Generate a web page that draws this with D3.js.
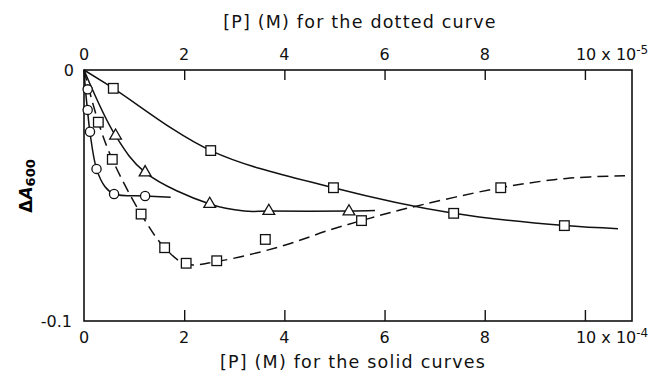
<!DOCTYPE html>
<html>
<head>
<meta charset="utf-8">
<script src="https://cdn.jsdelivr.net/npm/d3@7"></script>
<style>
  body { margin: 0; background: #fff; }
  svg { font-family: "DejaVu Sans", sans-serif; }
  .frame { stroke: #111; stroke-width: 1.6; fill: none; }
  .tick-lbl { font-size: 16px; fill: #111; }
  .title { font-size: 17.5px; letter-spacing: 1.2px; fill: #111; }
</style>
</head>
<body>
<div id="viz"></div>
<script>
// x in units of 1e-4 M (solid curves) or 1e-5 M (dotted curve), y = -dA600 in 1e-3
var xTicks = [2, 4, 6, 8, 10];

// measured points
var circlePts   = [[0.073, 7.7], [0.073, 15.9], [0.12, 24.6], [0.25, 39.4], [0.6, 49.4], [1.22, 50.2]];
var trianglePts = [[0.63, 26.2], [1.22, 40.8], [2.51, 53.4], [3.69, 56.2], [5.29, 56.4]];
var squarePts   = [[0.585, 7.3], [2.53, 32.1], [4.98, 46.9], [7.38, 57.1], [9.59, 62.0]];
var dottedPts   = [[0.286, 20.8], [0.565, 35.6], [1.14, 57.4], [1.61, 70.8], [2.04, 77.0], [2.65, 76.0], [3.62, 67.5], [5.54, 60.0], [8.32, 46.9]];

// drawn curves
var circleCurve   = [[0, 0], [0.03, 8], [0.07, 16], [0.12, 25], [0.25, 39.4], [0.42, 46.5], [0.6, 49.4], [1.22, 50.2], [1.73, 50.7]];
var triangleCurve = [[0, 0], [0.63, 26.2], [1.22, 40.8], [2.51, 53.4], [3.2, 56.2], [3.69, 56.2], [5.29, 56.2], [5.81, 56.0]];
var squareCurve   = [[0, 0], [0.585, 7.3], [2.53, 32.1], [4.98, 46.9], [7.38, 57.1], [9.59, 62.0], [10.66, 63.2]];
var dottedCurve   = [[0, 0], [0.286, 20.8], [0.565, 35.6], [1.14, 57.4], [1.61, 70.8], [2.04, 77.3], [2.65, 76.3], [3.91, 70.4], [4.91, 63.7], [5.54, 60.0], [6.31, 55.8], [8.32, 46.9], [9.63, 43.2], [10.8, 42.1]];

var width = 655, height = 374;
var margin = {top: 70, left: 84, right: 23, bottom: 53};

var x = d3.scaleLinear().domain([0, 10.94]).range([margin.left, width - margin.right]);
var y = d3.scaleLinear().domain([0, 100]).range([margin.top, height - margin.bottom]);

var svg = d3.select("#viz").append("svg")
    .attr("width", width)
    .attr("height", height);

// frame
svg.append("rect").attr("class", "frame")
    .attr("x", x(0)).attr("y", y(0))
    .attr("width", x(10.94) - x(0)).attr("height", y(100) - y(0));

// top axis (ticks pointing in)
var topAxis = svg.append("g").attr("transform", "translate(0," + y(0) + ")")
    .call(d3.axisBottom(x).tickValues(xTicks).tickSize(10).tickFormat(""));
topAxis.select(".domain").remove();
topAxis.selectAll("line").attr("stroke", "#111").attr("stroke-width", 1.4);

// bottom axis (ticks pointing in)
var botAxis = svg.append("g").attr("transform", "translate(0," + y(100) + ")")
    .call(d3.axisTop(x).tickValues(xTicks).tickSize(11).tickFormat(""));
botAxis.select(".domain").remove();
botAxis.selectAll("line").attr("stroke", "#111").attr("stroke-width", 1.4);

// tick labels
function tickLabels(vals, ty, exp) {
  vals.forEach(function (v) {
    if (v === 10) {
      var t = svg.append("text").attr("class", "tick-lbl")
          .attr("x", x(v) - 9).attr("y", ty);
      t.append("tspan").text("10 x 10");
      t.append("tspan").attr("dy", -6).style("font-size", "12px").text(exp);
    } else {
      svg.append("text").attr("class", "tick-lbl")
          .attr("x", x(v)).attr("y", ty)
          .attr("text-anchor", "middle").text(v);
    }
  });
}
tickLabels([0].concat(xTicks), 60, "-5");
tickLabels([0].concat(xTicks), 343, "-4");

svg.append("text").attr("class", "tick-lbl").attr("x", 74).attr("y", y(0) + 6)
    .attr("text-anchor", "end").text("0");
svg.append("text").attr("class", "tick-lbl").attr("x", 72).attr("y", y(100) + 6)
    .attr("text-anchor", "end").text("-0.1");

// titles
svg.append("text").attr("class", "title").attr("x", 360).attr("y", 28)
    .attr("text-anchor", "middle").text("[P] (M) for the dotted curve");
svg.append("text").attr("class", "title").attr("x", 353).attr("y", 368)
    .attr("text-anchor", "middle").text("[P] (M) for the solid curves");

var yl = svg.append("text").attr("transform", "translate(32,186) rotate(-90)")
    .attr("text-anchor", "middle").style("font-weight", "bold").style("font-size", "17px");
yl.append("tspan").text("\u0394");
yl.append("tspan").style("font-style", "italic").text("A");
yl.append("tspan").attr("dy", 3).style("font-size", "13px").text("600");

// curves
var line = d3.line()
    .x(function (d) { return x(d[0]); })
    .y(function (d) { return y(d[1]); })
    .curve(d3.curveCatmullRom.alpha(0.5));

[circleCurve, triangleCurve, squareCurve].forEach(function (c) {
  svg.append("path").datum(c).attr("d", line)
      .attr("fill", "none").attr("stroke", "#111").attr("stroke-width", 1.5);
});
svg.append("path").datum(dottedCurve).attr("d", line)
    .attr("fill", "none").attr("stroke", "#111").attr("stroke-width", 1.5)
    .attr("stroke-dasharray", "11,6");

// markers
svg.selectAll(".circ").data(circlePts).enter().append("circle")
    .attr("cx", function (d) { return x(d[0]); })
    .attr("cy", function (d) { return y(d[1]); })
    .attr("r", 4.6).attr("fill", "#fff").attr("stroke", "#111").attr("stroke-width", 1.3);

var tri = d3.symbol().type(d3.symbolTriangle).size(60);
svg.selectAll(".tri").data(trianglePts).enter().append("path")
    .attr("d", tri)
    .attr("transform", function (d) { return "translate(" + x(d[0]) + "," + y(d[1]) + ")"; })
    .attr("fill", "#fff").attr("stroke", "#111").attr("stroke-width", 1.3);

squarePts.concat(dottedPts).forEach(function (d) {
  svg.append("rect")
      .attr("x", x(d[0]) - 4.8).attr("y", y(d[1]) - 4.8)
      .attr("width", 9.6).attr("height", 9.6)
      .attr("fill", "#fff").attr("stroke", "#111").attr("stroke-width", 1.3);
});
</script>
</body>
</html>
